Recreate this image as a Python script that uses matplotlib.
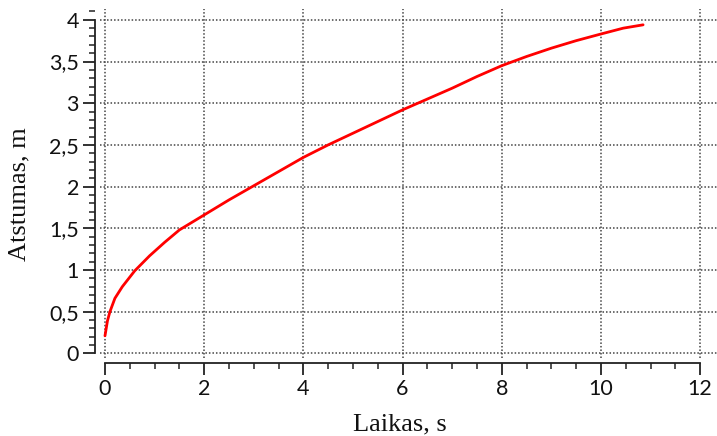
import matplotlib
matplotlib.use("Agg")
import matplotlib.pyplot as plt
from matplotlib.ticker import MultipleLocator, FuncFormatter

# distance vs time
laikas = [0, 0.05, 0.1, 0.2, 0.35, 0.6, 0.9, 1.2, 1.5, 2.0, 2.5, 3.0, 3.5, 4.0,
          4.5, 5.0, 5.5, 6.0, 6.5, 7.0, 7.5, 8.0, 8.5, 9.0, 9.5, 10.0, 10.45, 10.85]
atstumas = [0.21, 0.39, 0.5, 0.66, 0.8, 0.99, 1.17, 1.33, 1.48, 1.66, 1.84, 2.01, 2.18, 2.35,
            2.5, 2.64, 2.78, 2.92, 3.05, 3.18, 3.32, 3.45, 3.56, 3.66, 3.75, 3.83, 3.9, 3.94]

x_label = "Laikas, s"
y_label = "Atstumas, m"

fig = plt.figure(figsize=(7.17, 4.36), dpi=100)
ax = fig.add_axes([0.1395, 0.18, 0.8605, 0.7994])

ax.plot(laikas, atstumas, color="#ff0000", lw=2.0, solid_capstyle="round",
        solid_joinstyle="round")

ax.set_xlim(-0.1, 12.34)
ax.set_ylim(-0.05, 4.13)

ax.xaxis.set_major_locator(MultipleLocator(2))
ax.xaxis.set_minor_locator(MultipleLocator(0.5))
ax.yaxis.set_major_locator(MultipleLocator(0.5))
ax.yaxis.set_minor_locator(MultipleLocator(0.1))

comma = FuncFormatter(lambda v, p: f"{v:g}".replace(".", ","))
ax.xaxis.set_major_formatter(comma)
ax.yaxis.set_major_formatter(comma)

ax.grid(True, which="major", color="#444444", linestyle=(0, (1, 1.3)), lw=1.1)

for s in ["top", "right"]:
    ax.spines[s].set_visible(False)
ax.spines["left"].set_bounds(0, 4)
ax.spines["bottom"].set_bounds(0, 12)
ax.spines["left"].set_position(("outward", 3.6))
ax.spines["bottom"].set_position(("outward", 4))
for s in ["left", "bottom"]:
    ax.spines[s].set_color("#222222")
    ax.spines[s].set_linewidth(1.3)

tick_font = "Lato"
ax.tick_params(which="major", length=8.5, width=1.3, color="#222222",
               labelsize=15.5, pad=3, labelcolor="#111111")
ax.tick_params(which="minor", length=4.5, width=1.1, color="#222222")
for lab in ax.get_xticklabels() + ax.get_yticklabels():
    lab.set_fontfamily(tick_font)

ax.set_xlabel(x_label, fontsize=19, family="Liberation Serif", color="#111111")
ax.set_ylabel(y_label, fontsize=19, family="Liberation Serif", color="#111111")
ax.xaxis.set_label_coords(0.486, -0.16)
ax.yaxis.set_label_coords(-0.112, 0.47)

fig.savefig("out.png", dpi=100)
